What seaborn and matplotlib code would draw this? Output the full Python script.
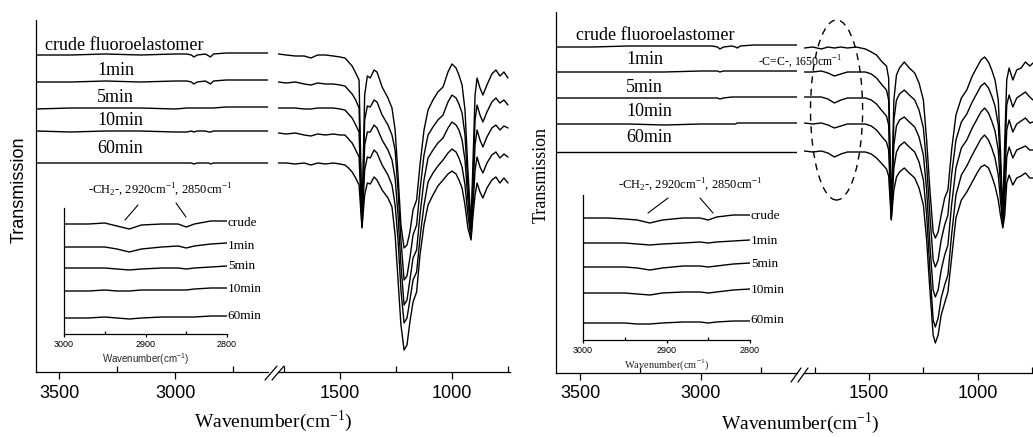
import matplotlib
matplotlib.use("Agg")
import matplotlib.pyplot as plt
from matplotlib.lines import Line2D
from matplotlib.patches import Ellipse
import seaborn as sns

# ---------------------------------------
# 0) Settings
# ---------------------------------------
sns.set_theme(style="ticks")
plt.rcParams["font.family"] = ["Liberation Serif", "DejaVu Serif"]
plt.rcParams["axes.edgecolor"] = "black"
plt.rcParams["axes.linewidth"] = 0.9
plt.rcParams["xtick.color"] = "black"
plt.rcParams["text.color"] = "black"

SANS = ["Liberation Sans", "DejaVu Sans"]
SERIF = ["Liberation Serif", "DejaVu Serif"]
W, H = 1033, 437

SAMPLES = ["crude", "1min", "5min", "10min", "60min"]
MAIN_LABELS = ["crude fluoroelastomer", "1min", "5min", "10min", "60min"]

# ---------------------------------------
# 1) Data (transmission, arbitrary units, read off the picture)
# ---------------------------------------
WN_HIGH = [3600, 3450, 3300, 3150, 3000, 2950, 2930, 2920, 2905, 2870, 2855, 2848, 2835, 2780, 2700, 2600]
WN_INSET = [3000, 2970, 2950, 2935, 2920, 2905, 2880, 2860, 2850, 2840, 2820, 2800]

# panel A (left figure)
A_WN_LOW = [1775, 1740, 1700, 1660, 1630, 1600, 1565, 1530, 1500,
            1478, 1462, 1446, 1430, 1415, 1402, 1390, 1378, 1365, 1348,
            1335, 1312, 1286, 1268, 1254, 1241, 1228, 1214, 1201, 1188,
            1174, 1158, 1143, 1125, 1107, 1085, 1063, 1040, 1018, 1000,
            982, 969, 955, 942, 929, 915, 906, 897, 888, 875,
            862, 844, 822, 804, 786, 768, 750]
A_HIGH = [
    [317, 317, 318, 317, 318, 318, 317, 315, 317, 318, 316, 315, 318, 319, 319, 319],
    [290, 290, 291, 290, 291, 291, 290, 288, 290, 291, 289, 288, 291, 292, 292, 292],
    [263, 264, 264, 264, 263, 264, 264, 264, 264, 264, 264, 264, 264, 265, 265, 265],
    [241, 240, 241, 241, 240, 240, 241, 240, 241, 241, 240, 240, 241, 241, 241, 241],
    [209, 209, 209, 209, 209, 209, 209, 208, 209, 209, 209, 208, 209, 209, 209, 209],
]
A_LOW = [
    [318, 317, 316, 316, 314, 317, 317, 316, 315, 314, 310, 306, 299, 292, 150, 277, 296, 294, 302,
     300, 285, 274, 264, 242, 197, 147, 124, 127, 140, 162, 172, 207, 242, 262, 272, 280, 285, 300, 308,
     304, 297, 287, 262, 202, 147, 212, 277, 294, 284, 277, 287, 298, 302, 296, 300, 294],
    [290, 289, 290, 288, 287, 289, 288, 288, 287, 286, 282, 278, 272, 264, 148, 252, 266, 265, 272,
     270, 257, 247, 237, 222, 182, 132, 92, 96, 114, 137, 147, 182, 217, 237, 245, 252, 257, 270, 277,
     274, 268, 259, 237, 187, 142, 197, 252, 267, 257, 250, 260, 270, 274, 269, 272, 267],
    [264, 264, 264, 263, 263, 264, 264, 264, 263, 262, 258, 254, 247, 240, 146, 227, 240, 240, 247,
     244, 232, 222, 212, 194, 157, 107, 67, 72, 92, 114, 122, 157, 192, 214, 222, 229, 234, 244, 250,
     247, 242, 232, 212, 172, 137, 182, 227, 242, 232, 225, 235, 244, 247, 242, 246, 244],
    [239, 238, 239, 237, 236, 238, 237, 238, 237, 237, 233, 229, 222, 215, 145, 202, 215, 214, 222,
     219, 207, 197, 187, 167, 132, 82, 49, 54, 72, 92, 100, 134, 167, 190, 199, 206, 212, 219, 223,
     220, 214, 205, 187, 157, 134, 167, 202, 215, 205, 199, 209, 217, 220, 214, 218, 215],
    [209, 209, 208, 209, 207, 209, 208, 209, 208, 207, 204, 200, 194, 187, 144, 177, 189, 188, 195,
     192, 182, 174, 165, 137, 92, 47, 22, 27, 50, 70, 80, 117, 147, 167, 177, 186, 192, 198, 201,
     198, 192, 184, 167, 144, 132, 157, 177, 189, 180, 174, 184, 192, 195, 189, 194, 189],
]
A_INSET = [
    [110, 110, 111, 108, 105, 109, 110, 110, 107, 110, 113, 113],
    [87, 87, 87, 85, 82, 85, 87, 88, 86, 88, 90, 91],
    [66, 66, 66, 65, 64, 65, 66, 66, 65, 66, 67, 68],
    [43, 43, 44, 43, 43, 44, 44, 44, 44, 45, 46, 46],
    [16, 16, 17, 16, 15, 16, 17, 17, 17, 17, 18, 18],
]

# panel B (right figure)
B_WN_LOW = [1798, 1760, 1720, 1690, 1660, 1630, 1600, 1560, 1517,
            1490, 1466, 1440, 1420, 1410, 1398, 1386, 1374, 1360, 1338,
            1315, 1290, 1270, 1250, 1235, 1220, 1205, 1195, 1182, 1168,
            1152, 1137, 1120, 1100, 1075, 1050, 1025, 1000, 985, 968,
            950, 935, 920, 905, 895, 884, 875, 866, 855, 838,
            820, 800, 780, 760, 745]
B_HIGH = [
    [326, 326, 327, 327, 327, 327, 326, 324, 326, 327, 326, 325, 327, 328, 328, 328],
    [301, 301, 301, 301, 302, 302, 302, 301, 302, 302, 302, 302, 302, 302, 302, 302],
    [275, 275, 275, 275, 275, 275, 275, 274, 275, 276, 276, 276, 276, 276, 276, 276],
    [249, 249, 249, 248, 249, 249, 249, 249, 249, 249, 249, 250, 250, 250, 250, 250],
    [221, 221, 221, 221, 221, 221, 221, 221, 221, 221, 221, 221, 221, 221, 221, 221],
]
B_LOW = [
    [325, 326, 324, 326, 325, 326, 325, 326, 324, 321, 318, 311, 307, 295, 158, 273, 298, 305, 311,
     305, 300, 290, 273, 233, 183, 141, 135, 141, 158, 175, 183, 223, 258, 275, 283, 297, 307, 313, 316,
     311, 303, 293, 273, 223, 158, 233, 293, 305, 293, 303, 305, 311, 307, 310],
    [301, 301, 302, 300, 297, 299, 301, 301, 301, 299, 295, 288, 283, 273, 156, 253, 273, 279, 283,
     278, 273, 263, 245, 208, 158, 113, 106, 113, 133, 148, 158, 198, 233, 251, 259, 271, 281, 287, 290,
     285, 277, 267, 248, 208, 153, 213, 268, 278, 266, 275, 278, 281, 276, 273],
    [276, 276, 276, 274, 270, 273, 275, 275, 275, 273, 269, 262, 257, 248, 155, 228, 247, 253, 256,
     251, 246, 236, 218, 183, 128, 83, 76, 83, 103, 118, 128, 168, 205, 225, 233, 245, 255, 261, 265,
     260, 252, 242, 223, 188, 149, 193, 243, 253, 241, 249, 252, 255, 250, 251],
    [250, 249, 250, 248, 245, 247, 249, 249, 249, 247, 243, 236, 231, 223, 154, 205, 221, 227, 231,
     226, 221, 211, 193, 158, 103, 53, 46, 55, 75, 88, 98, 138, 178, 198, 207, 218, 228, 234, 238,
     233, 225, 215, 198, 173, 147, 173, 216, 226, 215, 223, 225, 227, 223, 223],
    [222, 221, 222, 220, 216, 219, 221, 221, 221, 219, 215, 209, 204, 197, 153, 183, 196, 201, 205,
     200, 195, 185, 168, 133, 83, 38, 30, 38, 58, 70, 81, 115, 155, 173, 181, 191, 201, 206, 208,
     205, 197, 187, 173, 158, 145, 158, 190, 198, 188, 195, 197, 200, 195, 195],
]
B_INSET = [
    [122, 122, 121, 120, 117, 120, 122, 122, 120, 123, 125, 125],
    [97, 97, 97, 96, 95, 96, 97, 98, 97, 98, 99, 100],
    [73, 73, 73, 72, 70, 72, 74, 74, 73, 74, 76, 77],
    [47, 47, 47, 46, 45, 47, 48, 48, 47, 48, 50, 51],
    [17, 17, 17, 16, 16, 17, 18, 18, 17, 18, 19, 19],
]


def fx(px):
    return px / W


def fy(py):
    return 1 - py / H


def box(x0, y0, x1, y1):
    """Axes rectangle from pixel corners (left, top, right, bottom)."""
    return [fx(x0), fy(y1), (x1 - x0) / W, (y1 - y0) / H]


def draw_lines(ax, wn, series, lw=1.0):
    for vals in series:
        sns.lineplot(x=wn, y=vals, ax=ax, color="black", linewidth=lw,
                     sort=False, estimator=None, legend=False)


def style_axis(ax, xlim, top, majors, minors, show_left, size=13, major_len=5, minor_len=4, pad=4):
    ax.set_xlim(*xlim)
    ax.set_ylim(0, top)
    ax.set_facecolor("none")
    ax.spines["top"].set_visible(False)
    ax.spines["right"].set_visible(False)
    ax.spines["left"].set_visible(show_left)
    ax.set_yticks([])
    ax.set_xticks(majors)
    ax.set_xticks(minors, minor=True)
    ax.tick_params(axis="x", which="major", direction="out", length=major_len, width=0.9,
                   labelsize=size, pad=pad)
    ax.tick_params(axis="x", which="minor", direction="in", length=minor_len, width=0.9)
    for lab in ax.get_xticklabels():
        lab.set_family(SANS)
    ax.set_xlabel("")
    ax.set_ylabel("")


def fig_line(fig, p0, p1, lw=0.9):
    fig.add_artist(Line2D([fx(p0[0]), fx(p1[0])], [fy(p0[1]), fy(p1[1])],
                          color="black", linewidth=lw))


def draw_panel(fig, cfg):
    ax_hi = fig.add_axes(cfg["hi_box"])
    ax_lo = fig.add_axes(cfg["lo_box"])
    ax_in = fig.add_axes(cfg["in_box"])

    draw_lines(ax_hi, WN_HIGH, cfg["high"])
    draw_lines(ax_lo, cfg["wn_low"], cfg["low"])
    draw_lines(ax_in, WN_INSET, cfg["inset"], lw=1.0)

    style_axis(ax_hi, (3600, 2600), cfg["top"], [3500, 3000], [3250, 2750], True)
    style_axis(ax_lo, cfg["lo_xlim"], cfg["top"], [1500, 1000], [1750, 1250, 750], False)
    style_axis(ax_in, (3000, 2800), cfg["in_top"], [3000, 2900, 2800], [2950, 2850], True,
               size=6.5, major_len=2.5, minor_len=2, pad=1.5)

    # curve labels in the main plot
    for (wn, h), text in zip(cfg["main_label_pos"], MAIN_LABELS):
        ax_hi.text(wn, h, text, fontsize=13, ha="left", va="center", family=SERIF)

    # inset labels at the end of each trace
    for h, text in zip(cfg["inset_label_h"], SAMPLES):
        ax_in.text(2799, h, text, fontsize=9.5, ha="left", va="center", family=SERIF,
                   clip_on=False)
    ax_in.set_xlabel("Wavenumber(cm$^{\\mathregular{-1}}$)", fontsize=cfg["in_xlabel_size"],
                     family=cfg["in_xlabel_font"], labelpad=2)

    # broken-axis marks
    for seg in cfg["breaks"]:
        fig_line(fig, seg[0], seg[1])

    # CH2 annotation
    tx, ty = cfg["ch2_text"]
    fig.text(fx(tx), fy(ty), "-CH$_{\\mathregular{2}}$-, 2920cm$^{\\mathregular{-1}}$, 2850cm$^{\\mathregular{-1}}$",
             fontsize=9, ha="center", va="center", family=SERIF)
    for seg in cfg["ch2_lines"]:
        fig_line(fig, seg[0], seg[1], lw=0.8)

    fig.text(fx(cfg["ylabel"][0]), fy(cfg["ylabel"][1]), "Transmission", rotation=90,
             fontsize=13, ha="center", va="center", family=cfg["ylabel_font"])
    fig.text(fx(cfg["xlabel"][0]), fy(cfg["xlabel"][1]), "Wavenumber(cm$^{\\mathregular{-1}}$)",
             fontsize=14, ha="center", va="center", family=SERIF)
    return ax_hi, ax_lo, ax_in


def main():
    fig = plt.figure(figsize=(W / 100, H / 100), dpi=100)

    panel_a = dict(
        hi_box=box(36, 20, 268, 372), lo_box=box(278, 20, 510, 372), in_box=box(64, 208, 227, 334),
        high=A_HIGH, low=A_LOW, inset=A_INSET, wn_low=A_WN_LOW,
        top=352, in_top=126, lo_xlim=(1777, 741),
        main_label_pos=[(3561, 327), (3337, 302), (3337, 275), (3337, 252), (3337, 224)],
        inset_label_h=[111, 88, 68, 45, 18],
        in_xlabel_size=7, in_xlabel_font=SANS,
        breaks=[((265, 380), (277, 366)), ((272, 380), (284, 366))],
        ch2_text=(160, 190), ch2_lines=[((138, 205), (125, 220)), ((176, 203), (186, 217))],
        ylabel=(19, 190), ylabel_font=SANS, xlabel=(273, 421),
    )
    panel_b = dict(
        hi_box=box(556, 12, 797, 373), lo_box=box(804, 12, 1033, 373), in_box=box(583, 195, 750, 340),
        high=B_HIGH, low=B_LOW, inset=B_INSET, wn_low=B_WN_LOW,
        top=361, in_top=145, lo_xlim=(1800, 745),
        main_label_pos=[(3517, 338), (3308, 313), (3308, 286), (3308, 261), (3308, 235)],
        inset_label_h=[124, 99, 76, 50, 20],
        in_xlabel_size=7.5, in_xlabel_font=SERIF,
        breaks=[((791, 382), (801, 368)), ((798, 382), (808, 368))],
        ch2_text=(690, 185), ch2_lines=[((668, 198), (648, 213)), ((700, 198), (713, 213))],
        ylabel=(541, 175), ylabel_font=SERIF, xlabel=(800, 423),
    )

    draw_panel(fig, panel_a)
    _, ax_lo_b, _ = draw_panel(fig, panel_b)

    # C=C band marker in panel B
    ax_lo_b.add_patch(Ellipse((1650, 263), 240, 180, fill=False, linestyle=(0, (5, 4)),
                              linewidth=1.0, edgecolor="black", clip_on=False))
    fig.text(fx(800), fy(62), "-C=C-, 1650cm$^{\\mathregular{-1}}$", fontsize=8.5,
             ha="center", va="center", family=SERIF)

    fig.savefig("out.png", dpi=100)
    plt.close(fig)


if __name__ == "__main__":
    main()
